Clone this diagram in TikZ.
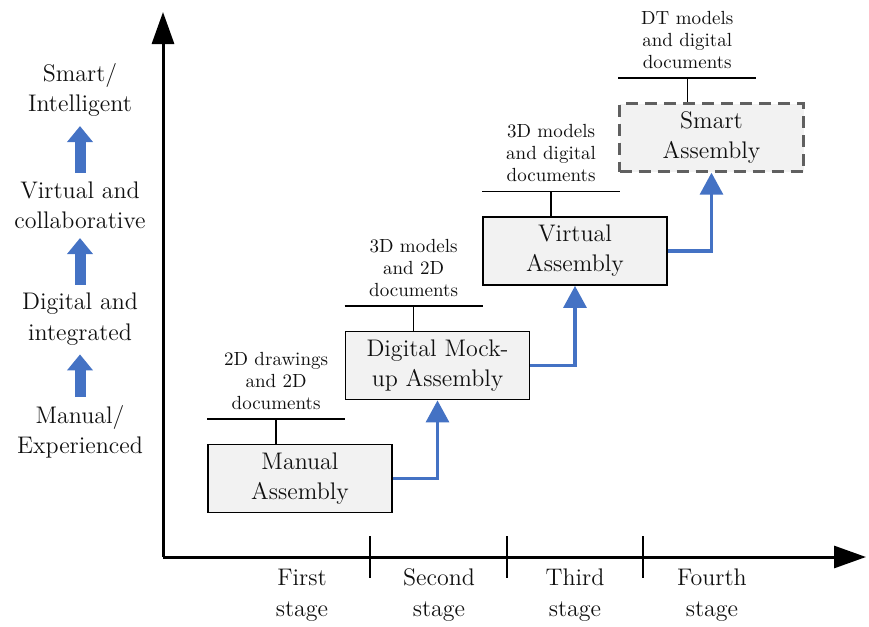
\documentclass[tikz,border=0pt]{standalone}
\usepackage{fontspec}
\usetikzlibrary{arrows.meta,calc,positioning}

\definecolor{boxgray}{HTML}{F2F2F2}
\definecolor{dashgray}{HTML}{606060}
\definecolor{flowblue}{HTML}{4472C4}
\definecolor{inkgray}{HTML}{101010}

\tikzset{
  stagebox/.style={draw=black, line width=0.9pt, fill=boxgray,
    minimum width=92pt, minimum height=34pt, inner sep=0pt, align=center,
    text=inkgray, font=\fontsize{12}{15}\selectfont},
  futurebox/.style={stagebox, draw=dashgray, line width=1.2pt,
    dash pattern=on 6pt off 3.5pt},
  doclabel/.style={align=center, inner sep=0pt, anchor=south, text=inkgray,
    font=\fontsize{9.5}{11}\selectfont},
  levellabel/.style={align=center, inner sep=0pt, text=inkgray,
    font=\fontsize{12}{15.2}\selectfont},
  stagelabel/.style={align=center, inner sep=0pt, text=inkgray,
    font=\fontsize{12}{15.5}\selectfont},
  leader/.style={draw=black, line width=0.8pt},
  axisline/.style={draw=black, line width=1.5pt,
    -{Triangle[width=11pt,length=16pt]}},
  tickmark/.style={draw=black, line width=1pt},
  flow/.style={draw=flowblue, line width=1.6pt,
    -{Triangle[width=11.5pt,length=11pt]}},
  levelarrow/.style={draw=flowblue, line width=5.5pt,
    -{Triangle[width=12.5pt,length=8pt]}},
}

\begin{document}
\begin{tikzpicture}[x=0.5pt, y=-0.5pt]
  \useasboundingbox (0,0) rectangle (869,627);

  % axes
  \coordinate (origin) at (163,557);
  \coordinate (ytip) at (163,12);
  \coordinate (xtip) at (866,557);
  \draw[axisline] (origin) -- (ytip);
  \draw[axisline] (origin) -- (xtip);

  % stage separators on the time axis
  \foreach \tx [count=\i] in {370,507,643} {
    \coordinate (tkt\i) at (\tx,536);
    \coordinate (tkb\i) at (\tx,578);
    \draw[tickmark] (tkt\i) -- (tkb\i);
  }

  % stage names
  \node[stagelabel] (s1) at (302,595) {First\\stage};
  \node[stagelabel] (s2) at (439,595) {Second\\stage};
  \node[stagelabel] (s3) at (575,595) {Third\\stage};
  \node[stagelabel] (s4) at (712,595) {Fourth\\stage};

  % maturity levels along the vertical axis
  \node[levellabel] (lv1) at (80,432) {Manual/\\Experienced};
  \node[levellabel] (lv2) at (80,319) {Digital and\\integrated};
  \node[levellabel] (lv3) at (80,205) {Virtual and\\collaborative};
  \node[levellabel] (lv4) at (80,90) {Smart/\\Intelligent};
  \draw[levelarrow, shorten <=4pt, shorten >=4.5pt] (lv1.north) -- (lv2.south);
  \draw[levelarrow, shorten <=4pt, shorten >=4.5pt] (lv2.north) -- (lv3.south);
  \draw[levelarrow, shorten <=4pt, shorten >=4.5pt] (lv3.north) -- (lv4.south);

  % assembly stages
  \node[stagebox] (manual)  at (300,478.5) {Manual\\Assembly};
  \node[stagebox] (dmu)     at (437.5,365.5) {Digital Mock-\\up Assembly};
  \node[stagebox] (virtual) at (575,251) {Virtual\\Assembly};
  \node[futurebox] (smart)  at (711.5,137.5) {Smart\\Assembly};

  % progression between stages
  \draw[flow] (manual.east)  -| (dmu.south);
  \draw[flow] (dmu.east)     -| (virtual.south);
  \draw[flow] (virtual.east) -| (smart.south);

  % documentation carried by each stage
  \foreach \b/\txt in {manual/{2D drawings\\and 2D\\documents},
                       dmu/{3D models\\and 2D\\documents},
                       virtual/{3D models\\and digital\\documents},
                       smart/{DT models\\and digital\\documents}} {
    \coordinate (\b-hub) at ($(\b.north west)+(69,-24.5)$);
    \coordinate (\b-hl) at ($(\b-hub)+(-69,0)$);
    \coordinate (\b-hr) at ($(\b-hub)+(69,0)$);
    \draw[leader] (\b-hl) -- (\b-hr);
    \draw[leader] (\b-hub) -- (\b-hub |- \b.north);
    \node[doclabel] (\b-doc) at ($(\b-hub)+(0,-9)$) {\txt};
  }
\end{tikzpicture}
\end{document}
